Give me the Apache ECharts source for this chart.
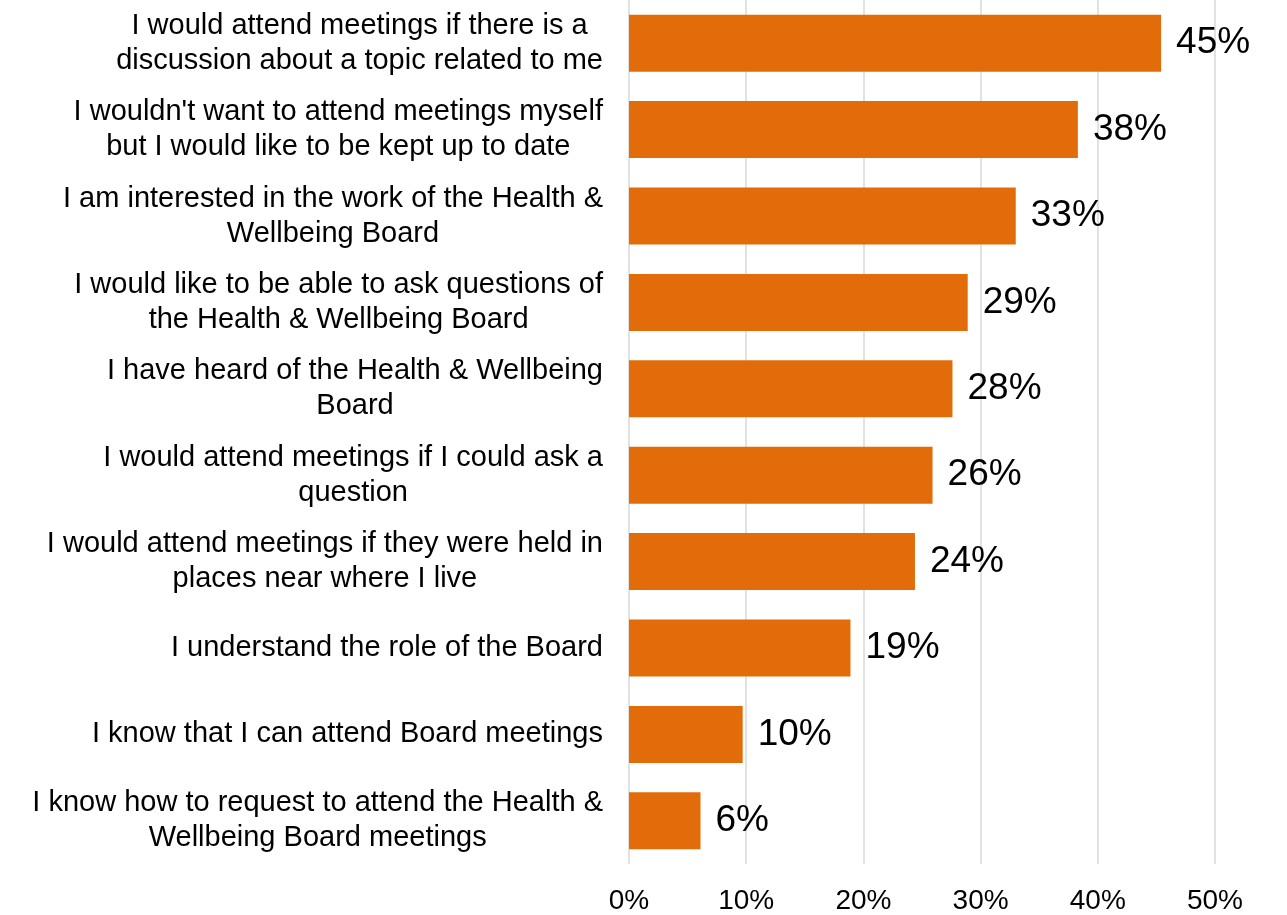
<!DOCTYPE html>
<html>
<head>
<meta charset="utf-8">
<title>Health & Wellbeing Board survey</title>
<script src="https://cdn.jsdelivr.net/npm/echarts@6/dist/echarts.min.js"></script>
<style>
  html, body { margin: 0; padding: 0; background: #fff; }
  #main { width: 1287px; height: 915px; }
</style>
</head>
<body>
<div id="main"></div>
<script>
// statements, top to bottom
var categories = [
  'I would attend meetings if there is a\ndiscussion about a topic related to me',
  "I wouldn't want to attend meetings myself\nbut I would like to be kept up to date",
  'I am interested in the work of the Health &\nWellbeing Board',
  'I would like to be able to ask questions of\nthe Health & Wellbeing Board',
  'I have heard of the Health & Wellbeing\nBoard',
  'I would attend meetings if I could ask a\nquestion',
  'I would attend meetings if they were held in\nplaces near where I live',
  'I understand the role of the Board',
  'I know that I can attend Board meetings',
  'I know how to request to attend the Health &\nWellbeing Board meetings'
];
// percent of respondents
var values = [45.4, 38.3, 33.0, 28.9, 27.6, 25.9, 24.4, 18.9, 9.7, 6.1];
var tickValues = [0, 10, 20, 30, 40, 50];

var font = 'Liberation Sans, Arial, sans-serif';

var chart = echarts.init(document.getElementById('main'));

var option = {
  animation: false,
  grid: {
    left: 629,
    right: 72,
    top: 0,
    bottom: 51
  },
  xAxis: {
    type: 'value',
    min: tickValues[0],
    max: tickValues[tickValues.length - 1],
    interval: 10,
    axisLine: { show: false },
    axisTick: { show: false },
    splitLine: { show: true, lineStyle: { color: '#d9d9d9', width: 1.5 } },
    axisLabel: {
      color: '#000',
      fontFamily: font,
      fontSize: 28,
      margin: 23,
      formatter: function (v) { return v + '%'; }
    }
  },
  yAxis: {
    type: 'category',
    inverse: true,
    data: categories,
    axisLine: { show: false },
    axisTick: { show: false },
    axisLabel: {
      color: '#000',
      fontFamily: font,
      fontSize: 29,
      lineHeight: 35,
      margin: 26,
      // each line centred inside the right-aligned block
      formatter: function (v) {
        return v.split('\n').map(function (s) { return '{c|' + s + '}'; }).join('\n');
      },
      rich: {
        c: { align: 'center', fontSize: 29, lineHeight: 35, fontFamily: font, color: '#000' }
      }
    }
  },
  series: [
    {
      type: 'bar',
      data: values,
      barCategoryGap: '34%',
      itemStyle: { color: '#e36c0a' },
      label: {
        show: true,
        position: 'right',
        distance: 15,
        color: '#000',
        fontFamily: font,
        fontSize: 37,
        formatter: function (p) { return Math.round(p.value) + '%'; }
      }
    }
  ]
};

chart.setOption(option);
</script>
</body>
</html>
